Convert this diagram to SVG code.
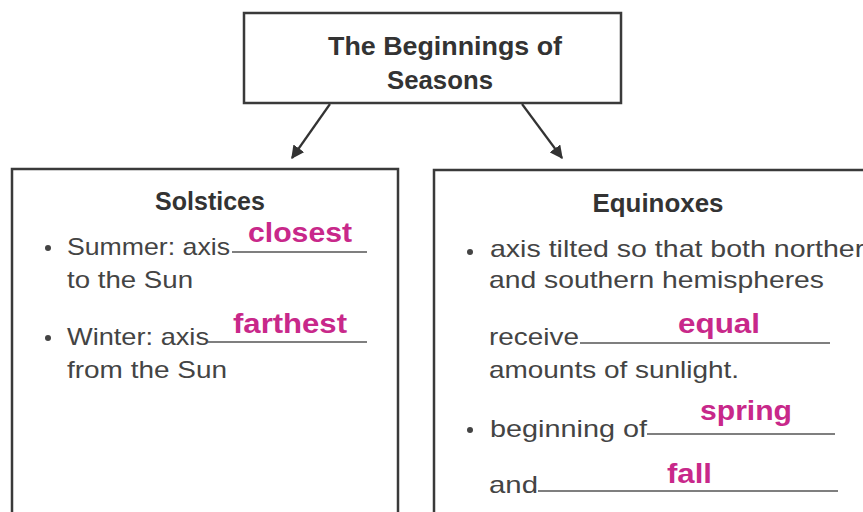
<svg xmlns="http://www.w3.org/2000/svg" width="863" height="512" viewBox="0 0 863 512">
<defs>
<style>
.box{fill:#fff;stroke:#3a3a3a;stroke-width:2.5}
.hd{font-family:"Liberation Sans",Arial,sans-serif;font-weight:bold;font-size:25px;fill:#333;text-anchor:middle}
.tx{font-family:"Liberation Sans",Arial,sans-serif;font-size:24px;fill:#444}
.ans{font-family:"Liberation Sans",Arial,sans-serif;font-weight:bold;font-size:28px;fill:#c8288a}
.ul{stroke:#555;stroke-width:1.5}
.conn{stroke:#333;stroke-width:2.2;fill:none}
.bul{fill:#444}
</style>
<marker id="ah" viewBox="0 0 10 10" refX="9" refY="5" markerWidth="6" markerHeight="6" orient="auto-start-reverse" markerUnits="strokeWidth">
<path d="M0,0 L10,5 L0,10 z" fill="#333"/>
</marker>
</defs>
<rect width="863" height="512" fill="#fff"/>
<g id="connectors">
<line class="conn" x1="330" y1="104" x2="292" y2="158" marker-end="url(#ah)"/>
<line class="conn" x1="522" y1="104" x2="562" y2="158" marker-end="url(#ah)"/>
</g>
<g id="node-title">
<rect class="box" x="244" y="13" width="377" height="90"/>
<text class="hd" x="445" y="55" textLength="234" lengthAdjust="spacingAndGlyphs">The Beginnings of</text>
<text class="hd" x="440" y="89" textLength="106" lengthAdjust="spacingAndGlyphs">Seasons</text>
</g>
<g id="node-solstices">
<rect class="box" x="12" y="169" width="386" height="350"/>
<text class="hd" x="210" y="210">Solstices</text>
<circle class="bul" cx="48" cy="248" r="3"/>
<text class="tx" x="67" y="255" textLength="163" lengthAdjust="spacingAndGlyphs">Summer: axis</text>
<line class="ul" x1="232" y1="252" x2="367" y2="252"/>
<text class="ans" x="248" y="242" textLength="104" lengthAdjust="spacingAndGlyphs">closest</text>
<text class="tx" x="67" y="288" textLength="126" lengthAdjust="spacingAndGlyphs">to the Sun</text>
<circle class="bul" cx="48" cy="338" r="3"/>
<text class="tx" x="67" y="345" textLength="142" lengthAdjust="spacingAndGlyphs">Winter: axis</text>
<line class="ul" x1="208" y1="342" x2="367" y2="342"/>
<text class="ans" x="233" y="333" textLength="114" lengthAdjust="spacingAndGlyphs">farthest</text>
<text class="tx" x="67" y="378" textLength="160" lengthAdjust="spacingAndGlyphs">from the Sun</text>
</g>
<g id="node-equinoxes">
<rect class="box" x="434" y="170" width="450" height="350"/>
<text class="hd" x="658" y="212" textLength="131" lengthAdjust="spacingAndGlyphs">Equinoxes</text>
<circle class="bul" cx="470" cy="252" r="3"/>
<text class="tx" x="490" y="257" textLength="390" lengthAdjust="spacingAndGlyphs">axis tilted so that both northern</text>
<text class="tx" x="489" y="288" textLength="335" lengthAdjust="spacingAndGlyphs">and southern hemispheres</text>
<text class="tx" x="489" y="345" textLength="90" lengthAdjust="spacingAndGlyphs">receive</text>
<line class="ul" x1="580" y1="343" x2="830" y2="343"/>
<text class="ans" x="678" y="333" textLength="82" lengthAdjust="spacingAndGlyphs">equal</text>
<text class="tx" x="489" y="378" textLength="250" lengthAdjust="spacingAndGlyphs">amounts of sunlight.</text>
<circle class="bul" cx="470" cy="430" r="3"/>
<text class="tx" x="490" y="437" textLength="157" lengthAdjust="spacingAndGlyphs">beginning of</text>
<line class="ul" x1="647" y1="434" x2="835" y2="434"/>
<text class="ans" x="700" y="420" textLength="92" lengthAdjust="spacingAndGlyphs">spring</text>
<text class="tx" x="489" y="493" textLength="49" lengthAdjust="spacingAndGlyphs">and</text>
<line class="ul" x1="538" y1="491" x2="838" y2="491"/>
<text class="ans" x="667" y="483" textLength="45" lengthAdjust="spacingAndGlyphs">fall</text>
</g>
</svg>
